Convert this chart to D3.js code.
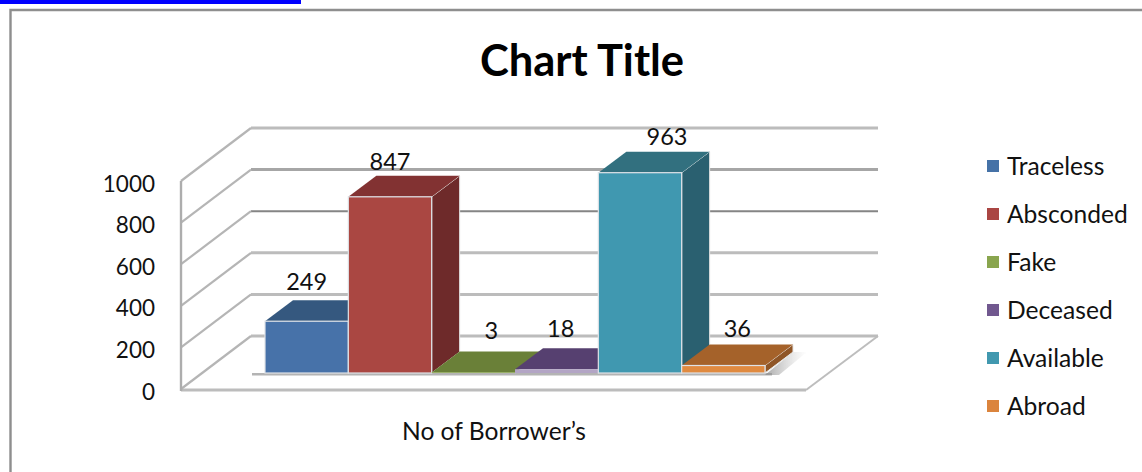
<!DOCTYPE html>
<html>
<head>
<meta charset="utf-8">
<style>
  html, body { margin: 0; padding: 0; background: #fff; }
  svg { display: block; }
  text { font-family: Lato, "Open Sans", sans-serif; fill: #111; }
</style>
<script src="https://cdn.jsdelivr.net/npm/d3@7/dist/d3.min.js"></script>
</head>
<body>
<script>
// Borrower categories and their counts
const categories = ["Traceless", "Absconded", "Fake", "Deceased", "Available", "Abroad"];
const borrowers = [249, 847, 3, 18, 963, 36];
const axisTicks = [0, 200, 400, 600, 800, 1000];
const categoryLabel = "No of Borrower’s";
const chartTitle = "Chart Title";

// Face colours for each category's box
const legendColors = ["#4572a7", "#aa4643", "#89a54e", "#71588f", "#4198af", "#db843d"];
const frontColors = ["#4672a9", "#aa4643", "#89a54e", "#b3a5c5", "#4198b0", "#e08a40"];
const topColors = ["#35597f", "#823331", "#6a8038", "#57416f", "#31707f", "#a5622c"];
const sideColors = ["#2d4c6f", "#6e2b29", "#5a6d30", "#4a375e", "#296170", "#8f5526"];

// Data labels sit a little off their box centre
const labelShiftX = [0, 0, 18, 4, 27, 14];
const labelGapY = [19, 14, 21, 20, 15, 16];

const width = 1142, height = 472;
const svg = d3.select("body").append("svg").attr("width", width).attr("height", height);

// Oblique projection: the wall recedes up and to the right
const wallDepth = { dx: 70, dy: -53 };
const boxDepth = { dx: 28, dy: -21 };
const y = d3.scaleLinear().domain([0, 1000]).range([389, 181]);
const barY = d3.scaleLinear().domain([0, 1000]).range([373, 165]);
const x = d3.scaleBand().domain(categories).range([265, 765]).paddingInner(0).paddingOuter(0);

const defs = svg.append("defs");
const shade = defs.append("linearGradient").attr("id", "floorShade")
  .attr("x1", "0").attr("x2", "1").attr("y1", "0").attr("y2", "0");
shade.append("stop").attr("offset", "0").attr("stop-color", "#8c8c8c").attr("stop-opacity", 0.75);
shade.append("stop").attr("offset", "1").attr("stop-color", "#bbb").attr("stop-opacity", 0);
const soft = defs.append("filter").attr("id", "soft");
soft.append("feGaussianBlur").attr("stdDeviation", 0.45);

// Page furniture: blue rule and chart frame
svg.append("rect").attr("x", 0).attr("y", 0).attr("width", 301).attr("height", 4).attr("fill", "#0000ff");
svg.append("path").attr("d", `M10.5,472V10H${width}`)
  .attr("fill", "none").attr("stroke", "#8e8e8e").attr("stroke-width", 2.4);

svg.append("text").attr("x", 582).attr("y", 76).attr("text-anchor", "middle")
  .attr("font-size", 43.5).attr("font-weight", 700).style("fill", "#000").text(chartTitle);

const grid = svg.append("g").attr("filter", "url(#soft)");
const backRight = 878;

// Floor outline
const floorLeft = 181, floorRight = 806;
grid.append("path")
  .attr("d", `M${floorRight},${y(0) + 1}L${backRight},${y(0) + wallDepth.dy}`)
  .attr("stroke", "#bdbdbd").attr("stroke-width", 2).attr("fill", "none");
grid.append("line").attr("x1", floorLeft).attr("x2", floorRight)
  .attr("y1", y(0) + 1).attr("y2", y(0) + 1)
  .attr("stroke", "#bcbcbc").attr("stroke-width", 3.2);

// Back wall gridlines and their returns along the side wall
const lineStroke = v => v === 600 ? "#858585" : v === 800 ? "#a6a6a6" : "#bcbcbc";
grid.selectAll("line.back").data(axisTicks).join("line").attr("class", "back")
  .attr("x1", floorLeft + wallDepth.dx).attr("x2", backRight)
  .attr("y1", d => y(d) + wallDepth.dy).attr("y2", d => y(d) + wallDepth.dy)
  .attr("stroke", lineStroke).attr("stroke-width", d => d === 600 ? 2 : 3);
grid.selectAll("line.side").data(axisTicks).join("line").attr("class", "side")
  .attr("x1", floorLeft).attr("x2", floorLeft + wallDepth.dx)
  .attr("y1", d => y(d)).attr("y2", d => y(d) + wallDepth.dy)
  .attr("stroke", "#b5b5b5").attr("stroke-width", 2.2);
grid.append("line").attr("x1", floorLeft).attr("x2", floorLeft)
  .attr("y1", y(1000)).attr("y2", y(0) + 2)
  .attr("stroke", "#adadad").attr("stroke-width", 2.4);

// Shadow cast on the floor by the row of boxes
grid.append("rect").attr("x", 252).attr("y", barY(0)).attr("width", 520).attr("height", 2.5).attr("fill", "#b4b4b4");
grid.append("path")
  .attr("d", `M${x.range()[1]},${barY(0) + 2}L${x.range()[1] + 14},${barY(0) + 2}L${x.range()[1] + 42},${barY(0) + boxDepth.dy}L${x.range()[1] + 28},${barY(0) + boxDepth.dy}Z`)
  .attr("fill", "url(#floorShade)");

// Value axis labels
svg.selectAll("text.tick").data(axisTicks).join("text").attr("class", "tick")
  .attr("x", 155).attr("y", d => y(d) + 2.5).attr("dy", "0.36em")
  .attr("text-anchor", "end").attr("font-size", 22.5).text(d => d);

// Boxes, drawn left to right so each one covers its neighbour's side face
const boxes = svg.append("g").attr("filter", "url(#soft)").selectAll("g")
  .data(categories.map((c, i) => ({ c, i, v: borrowers[i] }))).join("g");
const poly = pts => pts.map(p => p.join(",")).join(" ");

boxes.append("polygon").attr("fill", d => sideColors[d.i])
  .attr("stroke", "#e6e6e6").attr("stroke-width", 1)
  .attr("points", d => {
    const r = x(d.c) + x.bandwidth(), t = barY(d.v), b = barY(0);
    return poly([[r, t], [r + boxDepth.dx, t + boxDepth.dy], [r + boxDepth.dx, b + boxDepth.dy], [r, b]]);
  });
boxes.append("polygon").attr("fill", d => topColors[d.i])
  .attr("points", d => {
    const l = x(d.c), r = l + x.bandwidth(), t = barY(d.v);
    return poly([[l, t], [l + boxDepth.dx, t + boxDepth.dy], [r + boxDepth.dx, t + boxDepth.dy], [r, t]]);
  });
boxes.append("rect").attr("fill", d => frontColors[d.i])
  .attr("stroke", "#dfe3e8").attr("stroke-width", d => d.v > 20 ? 1.2 : 0)
  .attr("x", d => x(d.c)).attr("width", x.bandwidth())
  .attr("y", d => barY(d.v)).attr("height", d => barY(0) - barY(d.v));

// Values above each box
svg.selectAll("text.value").data(categories).join("text").attr("class", "value")
  .attr("x", (c, i) => x(c) + x.bandwidth() / 2 + labelShiftX[i])
  .attr("y", (c, i) => barY(borrowers[i]) + boxDepth.dy - labelGapY[i])
  .attr("dy", "0.36em").attr("text-anchor", "middle").attr("font-size", 23.5)
  .text((c, i) => borrowers[i]);

// Category label under the floor
svg.append("text").attr("x", 494).attr("y", 431).attr("dy", "0.36em")
  .attr("text-anchor", "middle").attr("font-size", 24.6).text(categoryLabel);

// Legend column
const legendY = d3.scalePoint().domain(categories).range([166, 406]);
const legend = svg.selectAll("g.legend").data(categories).join("g").attr("class", "legend")
  .attr("transform", c => `translate(987,${legendY(c)})`);
legend.append("rect").attr("x", 0).attr("y", -6).attr("width", 12).attr("height", 12)
  .attr("fill", (c, i) => legendColors[i]);
legend.append("text").attr("x", 20).attr("dy", "0.36em").attr("font-size", 24.6).text(c => c);
</script>
</body>
</html>
